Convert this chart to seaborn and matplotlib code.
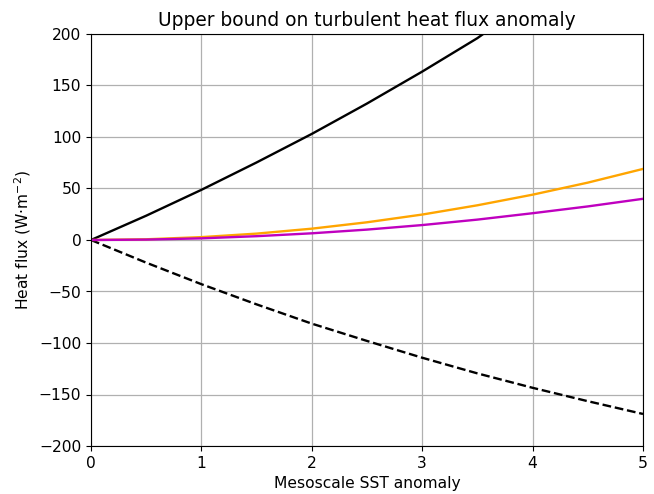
import matplotlib
matplotlib.use("Agg")
import matplotlib.pyplot as plt
import seaborn as sns
import numpy as np

sst = [0, 0.5, 1, 1.5, 2, 2.5, 3, 3.5, 4, 4.5, 5]
upper = [0, 23.6, 48.7, 75.3, 103, 132.5, 163.5, 196, 234, 270, 310]
lower = [0, -22, -42.9, -62.5, -81.2, -98, -114.3, -129.5, -143.5, -156.5, -168.9]
orange_vals = [0, 0.7, 2.8, 6.2, 11, 17.2, 24.7, 33.7, 44, 55.7, 69]
magenta_vals = [0, 0.4, 1.6, 3.7, 6.5, 10.1, 14.5, 19.8, 26, 32.6, 40]

plt.rcParams['font.size'] = 11.2
fig = plt.figure(figsize=(6.54, 4.94), dpi=100)
ax = fig.add_axes([91/654, 1-446/494, (643-91)/654, (446-34)/494])

sns.lineplot(x=sst, y=upper, color="black", lw=1.7, ax=ax)
sns.lineplot(x=sst, y=lower, color="black", lw=1.7, linestyle="--", ax=ax)
sns.lineplot(x=sst, y=orange_vals, color="orange", lw=1.7, ax=ax)
sns.lineplot(x=sst, y=magenta_vals, color="m", lw=1.7, ax=ax)

ax.set_xlim(0, 5)
ax.set_ylim(-200, 200)
ax.set_yticks(np.arange(-200, 201, 50))
ax.tick_params(labelsize=11.2)
ax.grid(True, color="#b0b0b0", lw=0.9)
ax.set_title("Upper bound on turbulent heat flux anomaly", fontsize=13.4)
ax.set_xlabel("Mesoscale SST anomaly", fontsize=11.2)
ax.set_ylabel("Heat flux (W·m$^{-2}$)", fontsize=11.2)
fig.savefig("out.png", dpi=100)
